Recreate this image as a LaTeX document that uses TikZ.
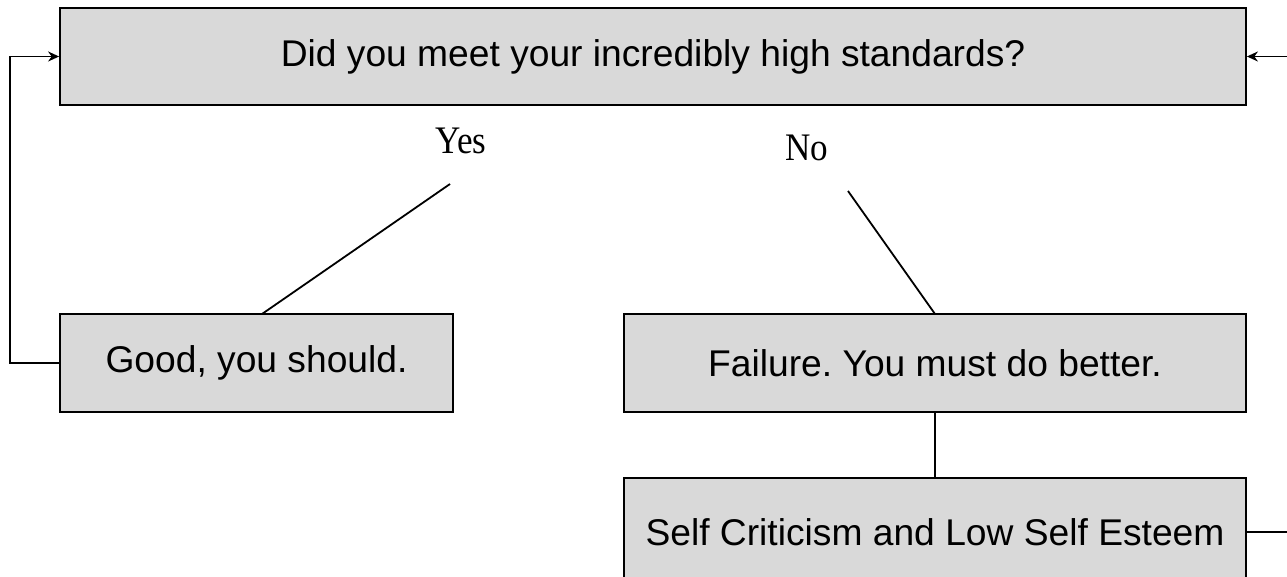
\documentclass[tikz,border=0pt]{standalone}
\usepackage{fontspec}
\setmainfont{Liberation Serif}
\newfontfamily\boxfont{Liberation Sans}
\newfontfamily\lblfont[FakeStretch=0.9]{Liberation Serif}
\usetikzlibrary{arrows.meta}
\frenchspacing
\begin{document}
\begin{tikzpicture}[x=1pt,y=-1pt,
  box/.style={draw=black,line width=1.8pt,fill=boxgray,inner sep=0pt,font=\boxfont\fontsize{37.2}{42}\selectfont},
  lbl/.style={font=\lblfont\fontsize{39}{44}\selectfont,inner sep=0pt,anchor=base},
  conn/.style={line width=1.8pt},
  arr/.style={conn,-{Stealth[length=11pt,width=10pt]}}]
\definecolor{boxgray}{HTML}{D9D9D9}
\useasboundingbox (0,0) rectangle (1287,577);
\clip (0,0) rectangle (1287,577);
\node[box,minimum width=1186pt,minimum height=97pt] (top) at (653,56.5) {Did you meet your incredibly high standards?};
\node[box,minimum width=393pt,minimum height=98pt] (good) at (256.5,363) {Good, you should.};
\node[box,minimum width=622pt,minimum height=98pt] (fail) at (935,363) {Failure. You must do better.};
\node[box,minimum width=622pt,minimum height=108pt] (self) at (935,532) {Self Criticism and Low Self Esteem};
\node[lbl] (yes) at (461,154) {Yes};
\node[lbl] (no) at (807,161) {No};
\coordinate (yesend) at (450,184);
\coordinate (noend) at (848,191);
\coordinate (goodtop) at (262,314);
\coordinate (failtop) at (935,314);
\coordinate (leftturn) at (10,363);
\coordinate (rightturn) at (1300,532);
\draw[conn] (yesend) -- (goodtop);
\draw[conn] (noend) -- (failtop);
\draw[conn] (fail.south) -- (self.north);
\draw[arr] (good.west) -- (leftturn) |- (top.west);
\draw[arr] (self.east) -- (rightturn) |- (top.east);
\end{tikzpicture}
\end{document}
